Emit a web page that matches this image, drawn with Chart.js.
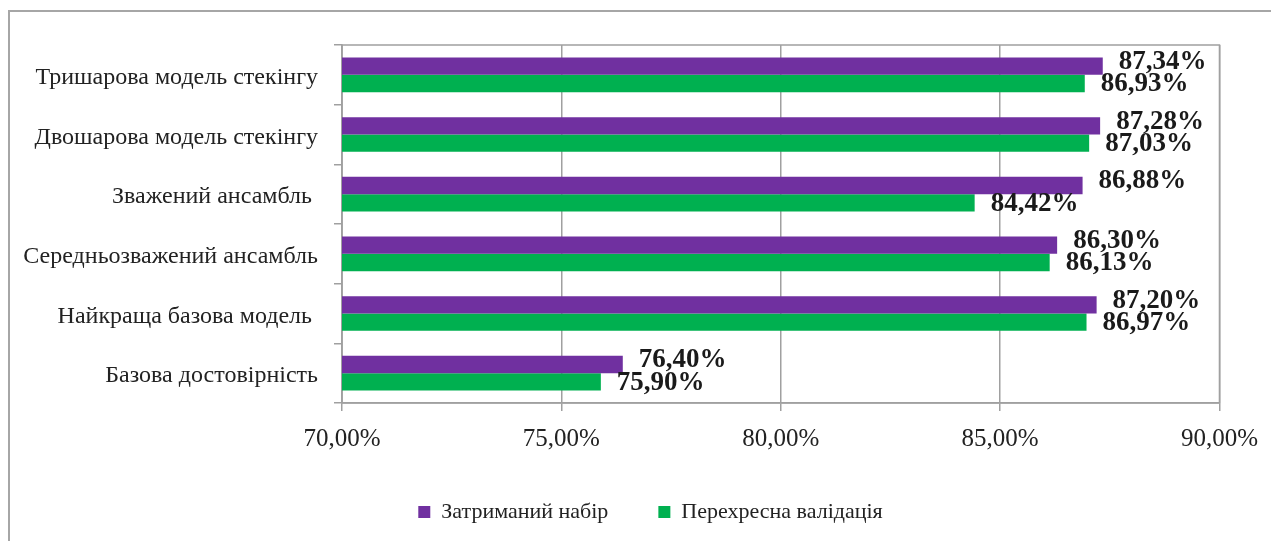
<!DOCTYPE html>
<html>
<head>
<meta charset="utf-8">
<script src="https://cdn.jsdelivr.net/npm/chart.js@4/dist/chart.umd.min.js"></script>
<style>
  html, body { margin: 0; padding: 0; background: #fff; }
  #wrap { position: relative; width: 1271px; height: 541px; overflow: hidden; }
  #frame { position: absolute; left: 8px; top: 10px; width: 1300px; height: 600px;
           border-left: 2px solid #a6a6a6; border-top: 2px solid #a6a6a6; }
  #chart { position: absolute; left: 0; top: 0; }
</style>
</head>
<body>
<div id="wrap">
  <div id="frame"></div>
  <canvas id="chart" width="1271" height="541"></canvas>
</div>
<script>
const categories = [
    'Тришарова модель стекінгу',
    'Двошарова модель стекінгу',
    'Зважений ансамбль ',
    'Середньозважений ансамбль',
    'Найкраща базова модель ',
    'Базова достовірність'
];
const heldOut = [87.34, 87.28, 86.88, 86.30, 87.20, 76.40];
const crossVal = [86.93, 87.03, 84.42, 86.13, 86.97, 75.90];
const seriesNames = ['Затриманий набір', 'Перехресна валідація'];
const xTicks = [70, 75, 80, 85, 90];

const serif = "'Liberation Serif', 'Times New Roman', serif";
const fmt = v => v.toFixed(2).replace('.', ',') + '%';

// value labels at the end of each bar
const barLabels = {
    id: 'barLabels',
    afterDatasetsDraw(chart) {
        const ctx = chart.ctx;
        ctx.save();
        ctx.font = 'bold 27px ' + serif;
        ctx.fillStyle = '#1a1a1a';
        ctx.textAlign = 'left';
        ctx.textBaseline = 'middle';
        chart.data.datasets.forEach((ds, i) => {
            chart.getDatasetMeta(i).data.forEach((bar, j) => {
                const dy = i === 0 ? -4 : 1;
                ctx.fillText(fmt(ds.data[j]), bar.x + 16, bar.y + dy);
            });
        });
        ctx.restore();
    }
};

// box round the plot area
const plotBox = {
    id: 'plotBox',
    beforeDatasetsDraw(chart) {
        const a = chart.chartArea;
        const ctx = chart.ctx;
        ctx.save();
        ctx.strokeStyle = '#a0a0a0';
        ctx.lineWidth = 1.5;
        ctx.strokeRect(a.left, a.top, a.right - a.left, a.bottom - a.top);
        ctx.restore();
    }
};

// legend sits a bit right of the canvas centre
const legendShift = {
    id: 'legendShift',
    afterLayout(chart) {
        if (chart.legend) {
            chart.legend.left += 40;
            chart.legend.right += 40;
        }
    }
};

new Chart(document.getElementById('chart').getContext('2d'), {
    type: 'bar',
    data: {
        labels: categories,
        datasets: [
            { label: seriesNames[0], data: heldOut, backgroundColor: '#7030A0' },
            { label: seriesNames[1], data: crossVal, backgroundColor: '#00B050' }
        ]
    },
    options: {
        indexAxis: 'y',
        responsive: false,
        animation: false,
        layout: { padding: { left: 0, top: 45, right: 50, bottom: 8 } },
        datasets: {
            bar: { categoryPercentage: 0.58, barPercentage: 1.0 }
        },
        plugins: {
            legend: {
                position: 'bottom',
                labels: {
                    font: { family: serif, size: 22 },
                    color: '#222',
                    boxWidth: 12,
                    boxHeight: 12,
                    padding: 50
                }
            },
            tooltip: { enabled: false }
        },
        scales: {
            x: {
                min: 70,
                max: 90,
                afterBuildTicks: s => { s.ticks = xTicks.map(v => ({ value: v })); },
                afterFit: s => { s.height = 48; },
                ticks: {
                    callback: v => fmt(v),
                    font: { family: serif, size: 25 },
                    color: '#222',
                    padding: 13,
                    maxRotation: 0
                },
                grid: { color: '#a0a0a0', lineWidth: 1.5, tickLength: 8 },
                border: { color: '#a0a0a0', width: 1.5 }
            },
            y: {
                afterFit: s => { s.width = 342; },
                ticks: {
                    font: { family: serif, size: 24 },
                    color: '#222',
                    padding: 16,
                    labelOffset: 3
                },
                grid: { display: true, drawOnChartArea: false, offset: true, color: '#a0a0a0', lineWidth: 1.5, tickLength: 8 },
                border: { color: '#a0a0a0', width: 1.5 }
            }
        }
    },
    plugins: [plotBox, barLabels, legendShift]
});
</script>
</body>
</html>
